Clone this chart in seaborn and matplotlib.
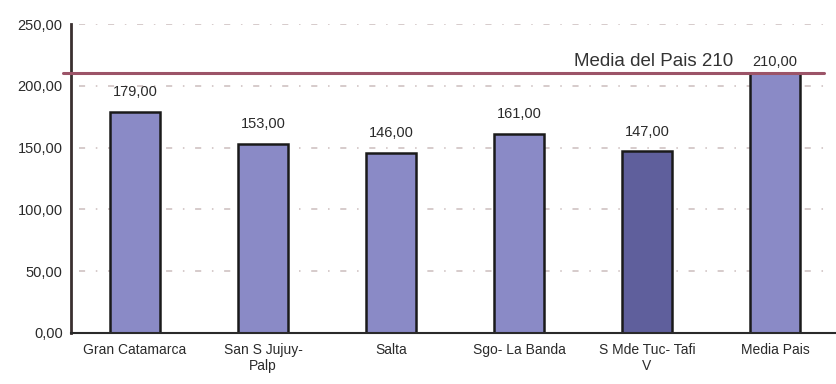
import matplotlib
matplotlib.use("Agg")
import matplotlib.pyplot as plt
import seaborn as sns
import pandas as pd

categories = ["Gran Catamarca", "San S Jujuy-\nPalp", "Salta", "Sgo- La Banda",
              "S Mde Tuc- Tafi\nV", "Media Pais"]
values = [179.00, 153.00, 146.00, 161.00, 147.00, 210.00]
value_labels = ["179,00", "153,00", "146,00", "161,00", "147,00", "210,00"]
country_mean = 210
mean_label = "Media del Pais 210"
y_ticks = [0, 50, 100, 150, 200, 250]
y_tick_labels = ["0,00", "50,00", "100,00", "150,00", "200,00", "250,00"]

bar_colors = ["#8a8ac6", "#8a8ac6", "#8a8ac6", "#8a8ac6", "#5f5f9c", "#8a8ac6"]

sns.set_theme(style="white")
plt.rcParams["font.family"] = ["Liberation Sans", "DejaVu Sans"]

df = pd.DataFrame({"zona": categories, "valor": values})

fig = plt.figure(figsize=(8.37, 3.84), dpi=100)
ax = fig.add_axes([71 / 837, 1 - 333 / 384, 768 / 837, 309 / 384])

sns.barplot(data=df, x="zona", y="valor", hue="zona", palette=bar_colors,
            width=0.39, edgecolor="#1a1a1a", linewidth=1.8, legend=False,
            saturation=1, ax=ax)

ax.set_xlim(-0.5, 5.5)
ax.set_ylim(0, 250)
ax.set_yticks(y_ticks)
ax.set_yticklabels(y_tick_labels, fontsize=10.5, color="#2a2a2a")
ax.tick_params(axis="x", length=0, labelsize=10, labelcolor="#2a2a2a", pad=7)
ax.tick_params(axis="y", length=3, width=1, direction="out", color="#333333", pad=3)
ax.set_xlabel("")
ax.set_ylabel("")

# category separators on the baseline
ax.set_xticks([i + 0.5 for i in range(len(categories) - 1)], minor=True)
ax.tick_params(axis="x", which="minor", length=3, width=1.2, color="#333333", direction="out")

# dashed horizontal grid
for v in y_ticks[1:]:
    ax.axhline(v, xmin=0.01, xmax=0.99, color="#cbbdbd", linestyle=(0, (4, 7, 1, 7)),
               linewidth=1.1, zorder=0)

for sp in ["top", "right"]:
    ax.spines[sp].set_visible(False)
ax.spines["left"].set_color("#3a3030")
ax.spines["left"].set_linewidth(2)
ax.spines["bottom"].set_color("#2a2a2a")
ax.spines["bottom"].set_linewidth(1.5)

# country mean reference
ax.axhline(country_mean, xmin=-0.01, xmax=0.98, color="#9c5468", linewidth=2.2,
           clip_on=False, zorder=3)
ax.text(4.05, 220, mean_label, ha="center", va="center", fontsize=13.5,
        color="#333333")

for i, (v, lab) in enumerate(zip(values, value_labels)):
    off = 16 if i < 5 else 9
    ax.text(i, v + off, lab, ha="center", va="center",
            fontsize=10.5, color="#2a2a2a")

fig.savefig("out.png", dpi=100)
